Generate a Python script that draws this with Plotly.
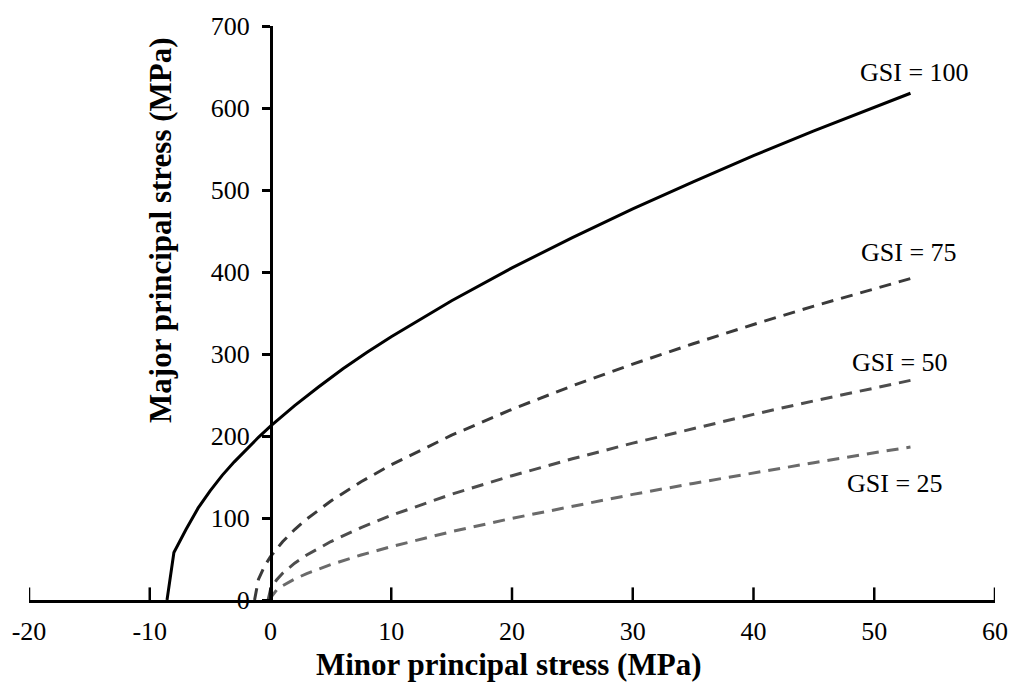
import plotly.graph_objects as go

# GSI = 100
x100 = [-8.57, -8, -7, -6, -5, -4, -3, -2, -1, 0, 2, 4, 6, 8, 10, 15, 20, 25, 30, 35, 40, 45, 50, 53]
y100 = [0, 58, 86, 112, 133, 152, 168.5, 184, 198.4, 212, 237, 260, 282, 302, 321, 365, 405, 442, 477, 510, 542, 572, 601, 618]
# GSI = 75
x75 = [-1.32, -1, -0.5, 0, 1, 2, 3, 5, 7.5, 10, 15, 20, 25, 30, 35, 40, 45, 50, 53]
y75 = [0, 25, 41.2, 52.9, 71.1, 85.9, 98.7, 120.7, 144.2, 164.9, 201, 232.6, 261.2, 287.7, 312.5, 336, 358.4, 379.8, 392]
# GSI = 50
x50 = [-0.2, 0, 0.5, 1, 2, 3, 5, 7.5, 10, 15, 20, 25, 30, 35, 40, 45, 50, 53]
y50 = [0, 12.8, 24.5, 32.6, 44.9, 54.9, 71.3, 88.3, 103.2, 129, 151.6, 172.2, 191.3, 209.3, 226.4, 242.8, 258.6, 267.8]
# GSI = 25
x25 = [-0.03, 0, 0.5, 1, 2, 3, 5, 7.5, 10, 15, 20, 25, 30, 35, 40, 45, 50, 53]
y25 = [0, 2.5, 12.1, 17.4, 25.6, 32.2, 43.2, 54.9, 65.1, 83.4, 99.6, 114.6, 128.8, 142.2, 155, 167.5, 179.5, 186.6]

labels = ["GSI = 100", "GSI = 75", "GSI = 50", "GSI = 25"]
label_x = [53.3, 52.9, 52.1, 51.7]
label_y = [643, 424, 290, 142]

x_ticks = [-20, -10, 0, 10, 20, 30, 40, 50, 60]
x_ticktext = ["-20", "-10", "0", "10", "20", "30", "40", "50", "60"]
y_ticks = [0, 100, 200, 300, 400, 500, 600, 700]
y_ticktext = ["0", "100", "200", "300", "400", "500", "600", "700"]

FONT = "Liberation Serif, Times New Roman, serif"
NBSP = "\u00a0"

fig = go.Figure()
fig.add_trace(go.Scatter(x=x25, y=y25, mode="lines", line=dict(color="#6a6a6a", width=3, dash="12px,8px")))
fig.add_trace(go.Scatter(x=x50, y=y50, mode="lines", line=dict(color="#4d4d4d", width=3, dash="12px,8px")))
fig.add_trace(go.Scatter(x=x75, y=y75, mode="lines", line=dict(color="#3a3a3a", width=3, dash="12px,8px")))
fig.add_trace(go.Scatter(x=x100, y=y100, mode="lines", line=dict(color="black", width=3)))

# x-axis tick marks pointing up (lower half clipped by the plot area)
fig.add_trace(go.Scatter(x=x_ticks, y=[0] * len(x_ticks), mode="markers", cliponaxis=True,
                         marker=dict(symbol="line-ns", size=18, color="black",
                                     line=dict(color="black", width=2.5)),
                         hoverinfo="skip"))

for t, lx, ly in zip(labels, label_x, label_y):
    fig.add_annotation(x=lx, y=ly, text=t, showarrow=False, xanchor="center", yanchor="middle",
                       font=dict(family=FONT, size=26, color="black"))

fig.add_annotation(xref="paper", yref="paper", x=(511 - 29) / 971, y=(600 - 665) / 578,
                   xanchor="center", yanchor="middle",
                   text="<b>Minor principal stress (MPa)</b>", showarrow=False,
                   font=dict(family=FONT, size=31, color="black"))
fig.add_annotation(xref="paper", yref="paper", x=(161 - 29) / 971, y=(600 - 228) / 578,
                   xanchor="center", yanchor="middle",
                   text="<b>Major principal stress (MPa)</b>", showarrow=False, textangle=-90,
                   font=dict(family=FONT, size=31, color="black"))

fig.update_layout(
    width=1020, height=689,
    margin=dict(l=29, r=20, t=22, b=89),
    plot_bgcolor="white", paper_bgcolor="white",
    showlegend=False,
    font=dict(family=FONT, size=26, color="black"),
    xaxis=dict(range=[-20, 60], tickmode="array", tickvals=x_ticks, ticktext=x_ticktext,
               showgrid=False, zeroline=False,
               showline=True, linecolor="black", linewidth=3,
               ticks="outside", ticklen=6, tickwidth=1, tickcolor="rgba(0,0,0,0)",
               tickfont=dict(family=FONT, size=26)),
    yaxis=dict(range=[0, 700], tickmode="array", tickvals=y_ticks,
               ticktext=[t + NBSP for t in y_ticktext],
               showgrid=False, zeroline=False,
               showline=True, linecolor="black", linewidth=3,
               anchor="free", position=0.25,
               ticks="outside", ticklen=8, tickwidth=2.5, tickcolor="#000000",
               tickfont=dict(family=FONT, size=26)),
)

fig.write_html("out.html")
